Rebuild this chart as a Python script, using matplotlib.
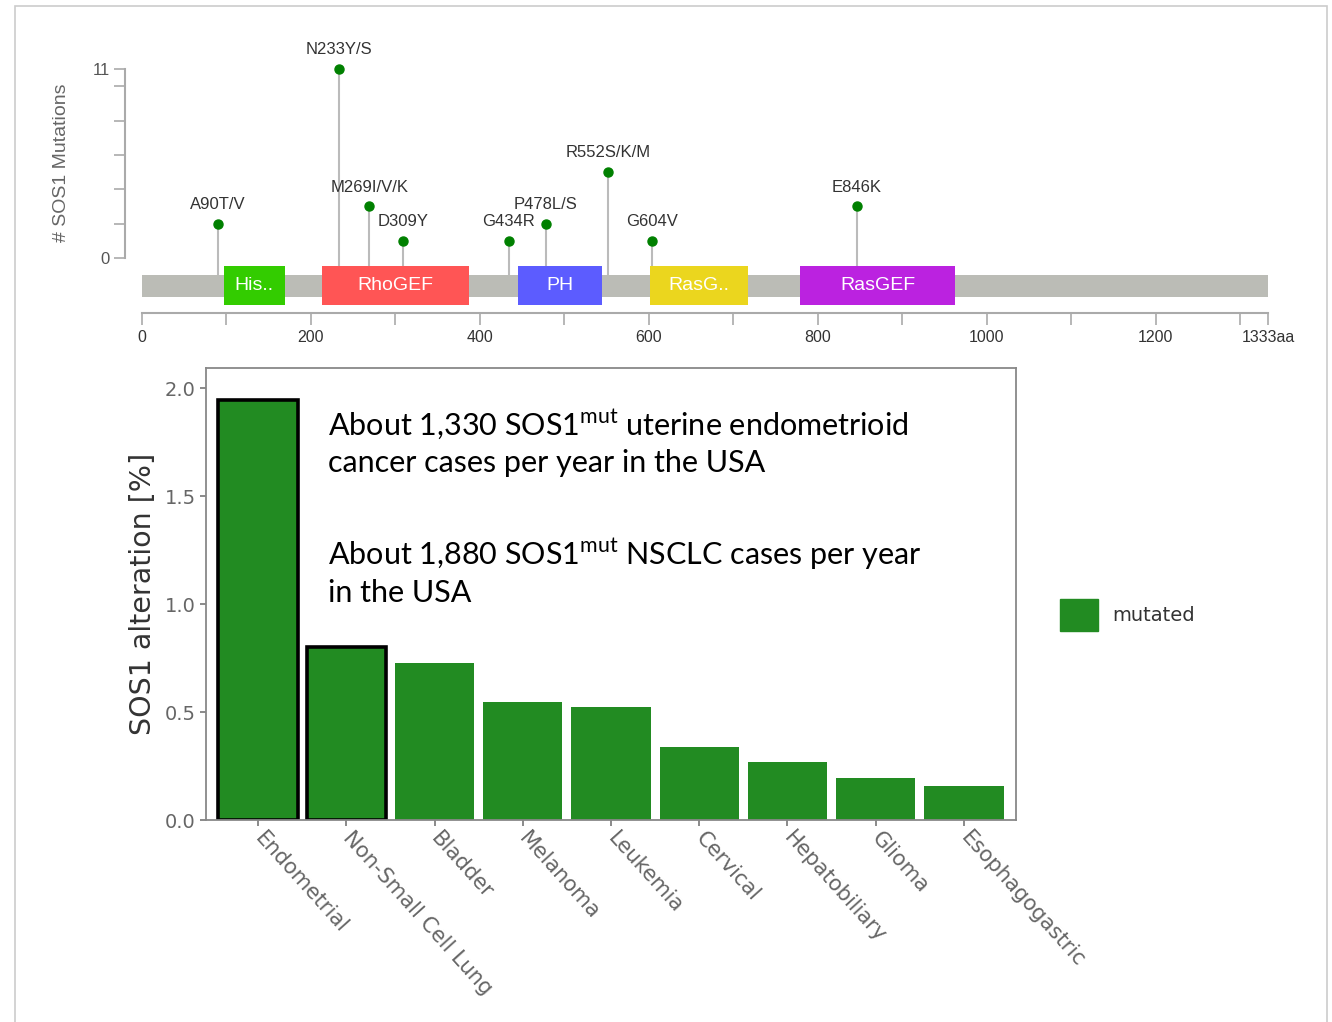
import matplotlib.pyplot as plt
from matplotlib.patches import Patch, Rectangle
import numpy as np

# SOS1 protein: mutation hotspots (lollipops)
mut_labels = ['A90T/V', 'N233Y/S', 'M269I/V/K', 'D309Y', 'G434R', 'P478L/S', 'R552S/K/M', 'G604V', 'E846K']
mut_pos = [90, 233, 269, 309, 434, 478, 552, 604, 846]
mut_count = [2, 11, 3, 1, 1, 2, 5, 1, 3]
protein_len = 1333

# protein domains
dom_names = ['His..', 'RhoGEF', 'PH', 'RasG..', 'RasGEF']
dom_start = [97, 213, 445, 601, 779]
dom_end = [169, 387, 544, 717, 963]
dom_colors = ['#33cc00', '#ff5555', '#5c5cff', '#ebd61e', '#bb22e0']

# alteration frequency by cancer type
cancer_types = ['Endometrial', 'Non-Small Cell Lung', 'Bladder', 'Melanoma', 'Leukemia',
                'Cervical', 'Hepatobiliary', 'Glioma', 'Esophagogastric']
alteration_pct = [1.944, 0.799, 0.729, 0.548, 0.523, 0.338, 0.269, 0.194, 0.157]
highlighted = ['Endometrial', 'Non-Small Cell Lung']

plt.rcParams['font.family'] = ['DejaVu Sans']
plt.rcParams['mathtext.fontset'] = 'custom'
plt.rcParams['mathtext.rm'] = 'Lato'

fig = plt.figure(figsize=(13.32, 10.22), dpi=100)

# light frame round the whole picture
fig.add_artist(Rectangle((15/1332, -0.01), 1312/1332, 1.01 - 6/1022, transform=fig.transFigure,
                         fill=False, edgecolor='#cccccc', lw=1.2))

# ---- top panel: lollipop plot ----
tfont = ['Liberation Sans', 'DejaVu Sans']
ax1 = fig.add_axes([125/1332, 1 - 313/1022, 1175/1332, 283/1022])
ax1.set_xlim(-20.1, 1370.9)
ax1.set_ylim(-3.2, 13.27)

ax1.vlines(mut_pos, -1.0, mut_count, color='#bbbbbb', lw=1.5, zorder=1)
ax1.barh(-1.63, protein_len, left=0, height=1.28, color='#bbbcb6', zorder=2)
widths = [e - s for s, e in zip(dom_start, dom_end)]
ax1.barh([-1.6] * len(dom_names), widths, left=dom_start, height=2.27, color=dom_colors, zorder=3)
for name, s, w in zip(dom_names, dom_start, widths):
    ax1.text(s + w / 2, -1.6, name, color='white', fontsize=14, ha='center', va='center',
             family=tfont, zorder=4)

ax1.plot(mut_pos, mut_count, 'o', color='#008000', ms=6.5, zorder=5)
for lab, p, c in zip(mut_labels, mut_pos, mut_count):
    ax1.annotate(lab, (p, c), xytext=(0, 14), textcoords='offset points', ha='center', va='center',
                 fontsize=12, color='#333333', family=tfont)

for s in ['top', 'right']:
    ax1.spines[s].set_visible(False)
for s in ['left', 'bottom']:
    ax1.spines[s].set_color('#aaaaaa')
    ax1.spines[s].set_linewidth(1.5)
ax1.spines['left'].set_bounds(0, 11)
ax1.spines['bottom'].set_bounds(0, protein_len)

ax1.set_yticks([0, 11])
ax1.set_yticks([2, 4, 6, 8, 10], minor=True)
xt = list(range(0, 1201, 200)) + [protein_len]
ax1.set_xticks(xt, [str(v) for v in xt[:-1]] + ['1333aa'])
ax1.set_xticks(list(range(100, 1301, 200)), minor=True)
ax1.tick_params(axis='y', which='both', length=8, width=1.2, color='#aaaaaa', labelsize=12,
                labelcolor='#555555', pad=3)
ax1.tick_params(axis='x', which='both', length=8.6, width=1.2, color='#aaaaaa', labelsize=11.5,
                labelcolor='#333333', pad=4)
for t in ax1.get_xticklabels() + ax1.get_yticklabels():
    t.set_family(tfont)
ax1.set_ylabel('# SOS1 Mutations', fontsize=14, color='#666666', family=tfont)
ax1.yaxis.set_label_coords(-0.047, 0.53)

# ---- bottom panel: bar chart ----
ax2 = fig.add_axes([206/1332, 1 - 820/1022, 810/1332, 452/1022])
x = np.arange(len(cancer_types))
edges = ['black' if c in highlighted else 'none' for c in cancer_types]
lws = [2.6 if c in highlighted else 0 for c in cancer_types]
ax2.bar(x, alteration_pct, width=0.9, color='#228b22', edgecolor=edges, linewidth=lws)
ax2.set_xlim(-0.59, 8.59)
ax2.set_ylim(0, 2.093)
ax2.set_yticks([0, 0.5, 1.0, 1.5, 2.0])
ax2.set_xticks(x)
ax2.set_xticklabels(cancer_types, rotation=-48, ha='left', va='center', rotation_mode='anchor')
for s in ax2.spines.values():
    s.set_color('#888888')
    s.set_linewidth(1.3)
ax2.tick_params(axis='y', length=4.5, width=1.2, color='#777777', labelsize=14,
                labelcolor='#666666', pad=3)
ax2.tick_params(axis='x', length=4.5, width=1.2, color='#777777', labelsize=15.2,
                labelcolor='#666666', pad=6)
ax2.set_ylabel('SOS1 alteration [%]', fontsize=20.5, color='#333333')
ax2.yaxis.set_label_coords(-0.061, 0.5)

ax2.text(0.1506, 0.912, 'About 1,330 $\\mathrm{SOS1}^{\\mathrm{mut}}$ uterine endometrioid\ncancer cases per year in the USA',
         transform=ax2.transAxes, ha='left', va='top', fontsize=22, family='Lato',
         linespacing=1.3, color='black')
ax2.text(0.1506, 0.627, 'About 1,880 $\\mathrm{SOS1}^{\\mathrm{mut}}$ NSCLC cases per year\nin the USA',
         transform=ax2.transAxes, ha='left', va='top', fontsize=22, family='Lato',
         linespacing=1.3, color='black')

leg = fig.legend(handles=[Patch(color='#228b22', label='mutated')], loc='center left',
                 bbox_to_anchor=(1060/1332, 1 - 615/1022), frameon=False, fontsize=14,
                 handlelength=1.96, handleheight=2.16, handletextpad=0.72, borderpad=0,
                 borderaxespad=0)
for t in leg.get_texts():
    t.set_color('#333333')

fig.savefig('out.png', dpi=100)
